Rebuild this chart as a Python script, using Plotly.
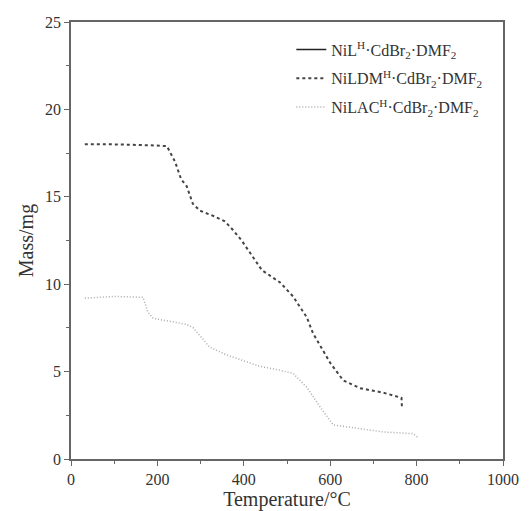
import plotly.graph_objects as go

# NiLDM^H·CdBr2·DMF2 (dashed)
t_ldm = [32, 100, 180, 222, 241, 255, 268, 282, 299, 330, 356, 375, 395, 414, 442, 484, 514, 546, 560, 600, 630, 669, 722, 765, 766]
m_ldm = [18.0, 18.0, 17.95, 17.9, 17.0, 16.0, 15.6, 14.6, 14.2, 13.9, 13.6, 13.1, 12.5, 11.8, 10.8, 10.1, 9.3, 8.1, 7.2, 5.5, 4.5, 4.05, 3.8, 3.5, 3.0]

# NiLAC^H·CdBr2·DMF2 (dotted)
t_lac = [32, 100, 167, 178, 190, 230, 268, 283, 321, 361, 414, 437, 470, 514, 546, 576, 607, 646, 722, 792, 805]
m_lac = [9.2, 9.3, 9.25, 8.4, 8.05, 7.85, 7.7, 7.5, 6.4, 5.95, 5.5, 5.3, 5.15, 4.9, 4.1, 3.0, 1.95, 1.8, 1.55, 1.45, 1.2]

names = ["NiL<sup>H</sup>·CdBr<sub>2</sub>·DMF<sub>2</sub>",
         "NiLDM<sup>H</sup>·CdBr<sub>2</sub>·DMF<sub>2</sub>",
         "NiLAC<sup>H</sup>·CdBr<sub>2</sub>·DMF<sub>2</sub>"]

fig = go.Figure()
fig.add_trace(go.Scatter(x=[None], y=[None], mode="lines", name=names[0], legendgroup="a",
                         line=dict(color="#222222", width=1.5, dash="solid")))
fig.add_trace(go.Scatter(x=t_ldm, y=m_ldm, mode="lines", name=names[1], legendgroup="b",
                         line=dict(color="#444444", width=2, dash="3px,3px")))
fig.add_trace(go.Scatter(x=t_lac, y=m_lac, mode="lines", name=names[2], legendgroup="c",
                         line=dict(color="#aaaaaa", width=1.5, dash="1px,2px")))

font = "Liberation Serif, Times New Roman, serif"
fig.update_layout(
    width=529, height=511,
    margin=dict(l=63, r=34, t=14, b=60, autoexpand=False),
    plot_bgcolor="white", paper_bgcolor="white",
    font=dict(family=font, size=16, color="#333333"),
    showlegend=True,
    legend=dict(x=0.51, y=0.976, xanchor="left", yanchor="top",
                bgcolor="rgba(0,0,0,0)", font=dict(family=font, size=16, color="#333333"),
                tracegroupgap=5, itemwidth=30),
)
axis_common = dict(showline=True, linecolor="#666666", linewidth=1.5, mirror=True,
                   ticks="outside", ticklen=5, tickcolor="#666666", showgrid=False,
                   zeroline=False, automargin=False,
                   tickfont=dict(family=font, size=16, color="#333333"))
fig.update_xaxes(range=[0, 1000], tickvals=[0, 200, 400, 600, 800, 1000],
                 minor=dict(ticks="outside", ticklen=3, dtick=100, tickcolor="#666666"),
                 title=dict(text="Temperature/°C", standoff=0, font=dict(family=font, size=20)),
                 **axis_common)
fig.update_yaxes(range=[0, 25], tickvals=[0, 5, 10, 15, 20, 25],
                 minor=dict(ticks="outside", ticklen=3, dtick=2.5, tickcolor="#666666"),
                 title=dict(text="Mass/mg", standoff=6, font=dict(family=font, size=20)),
                 **axis_common)

fig.write_html("out.html")
